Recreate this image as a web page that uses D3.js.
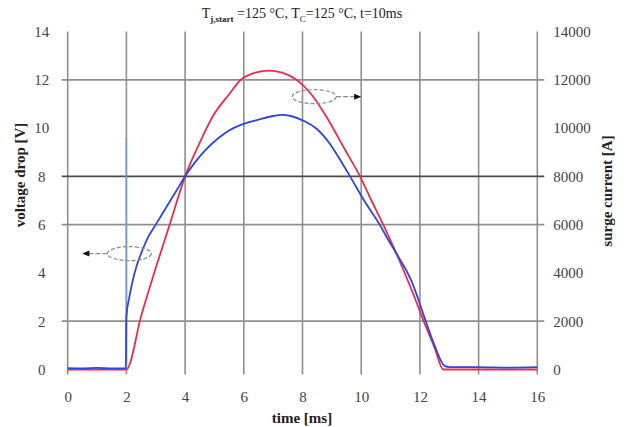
<!DOCTYPE html>
<html>
<head>
<meta charset="utf-8">
<script src="https://cdn.jsdelivr.net/npm/d3@7"></script>
<style>
  body { margin: 0; background: #fff; }
  text { font-family: "Liberation Serif", "Times New Roman", serif; }
</style>
</head>
<body>
<div id="chart-area"></div>
<script>
// ticks
const timeTicks = [0, 2, 4, 6, 8, 10, 12, 14, 16];
const voltTicks = [0, 2, 4, 6, 8, 10, 12, 14];
const currentTicks = [0, 2000, 4000, 6000, 8000, 10000, 12000, 14000];
const voltGrid = [2, 6, 8, 12];

// voltage drop (blue), V
const voltTime = [0, 0.5, 1, 1.5, 1.98, 2, 2.1, 2.2, 2.35, 2.5, 2.75, 3.0, 3.25, 3.5, 3.75, 4.0, 4.35, 4.7, 5.15, 5.5, 5.94, 6.5, 7.0, 7.3, 7.6, 8.09, 8.5, 8.9, 9.25, 9.62, 10.1, 10.63, 10.86, 11.25, 11.7, 12.2, 12.5, 12.84, 13.0, 14, 15, 16];
const voltage  = [0.06, 0.05, 0.07, 0.05, 0.06, 2.2, 3.0, 3.6, 4.3, 4.8, 5.5, 6.0, 6.5, 7.0, 7.5, 8.0, 8.6, 9.1, 9.6, 9.9, 10.15, 10.35, 10.5, 10.55, 10.5, 10.27, 9.95, 9.4, 8.75, 8.0, 7.0, 6.0, 5.5, 4.7, 3.7, 2.0, 1.0, 0.15, 0.1, 0.1, 0.08, 0.1];
// turn-on spike at t = 2 ms
const spikeTime = [2, 2];
const spikeVolt = [0, 9.6];

// surge current (red), A
const currentTime = [0, 2, 2.5, 3, 3.5, 4, 4.5, 5, 5.5, 5.9, 6.4, 6.85, 7.3, 7.8, 8.3, 8.8, 9.45, 9.96, 10.35, 10.75, 11.25, 11.75, 12.13, 12.5, 12.8, 16];
const current     = [0, 0, 2200, 4200, 6100, 8000, 9400, 10600, 11400, 12000, 12300, 12380, 12300, 12000, 11400, 10500, 9100, 8000, 7000, 6000, 4660, 3200, 2000, 900, 0, 0];

const width = 634, height = 427;
const font = '"Liberation Serif", "Times New Roman", serif';
const svg = d3.select('#chart-area')
    .append('svg')
    .attr('width', width)
    .attr('height', height);

const x = d3.scaleLinear().domain([0, 16]).range([67.7, 537.3]);
const y = d3.scaleLinear().domain([0, 14]).range([369.5, 31.5]);
const yR = d3.scaleLinear().domain([0, 14000]).range([369.5, 31.5]);

// vertical grid
svg.append('g')
    .selectAll('line')
    .data(timeTicks)
    .enter()
    .append('line')
    .attr('x1', d => x(d)).attr('x2', d => x(d))
    .attr('y1', y(14)).attr('y2', y(0) + 5)
    .attr('stroke', '#8f8f8f')
    .attr('stroke-width', 1.6);

// horizontal grid (only some levels)
svg.append('g')
    .selectAll('line')
    .data(voltGrid)
    .enter()
    .append('line')
    .attr('x1', x(0) - 6).attr('x2', x(16) + 7)
    .attr('y1', d => y(d)).attr('y2', d => y(d))
    .attr('stroke', d => d === 8 ? '#4a4a4a' : '#8f8f8f')
    .attr('stroke-width', 1.8);

// left axis
const leftAxis = svg.append('g')
    .attr('transform', `translate(${x(0)},0)`)
    .call(d3.axisLeft(y).tickValues(voltTicks).tickSize(0));
leftAxis.select('.domain').remove();
leftAxis.selectAll('text')
    .attr('x', -26)
    .attr('text-anchor', 'middle')
    .attr('fill', '#444')
    .style('font-family', font)
    .style('font-size', '15px');

// right axis
const rightAxis = svg.append('g')
    .attr('transform', `translate(${x(16)},0)`)
    .call(d3.axisRight(yR).tickValues(currentTicks).tickSize(0).tickFormat(d3.format('d')));
rightAxis.select('.domain').remove();
rightAxis.selectAll('text')
    .attr('x', 16)
    .attr('text-anchor', 'start')
    .attr('fill', '#444')
    .style('font-family', font)
    .style('font-size', '15px');

// bottom axis
const bottomAxis = svg.append('g')
    .attr('transform', `translate(0,${y(0)})`)
    .call(d3.axisBottom(x).tickValues(timeTicks).tickSize(0));
bottomAxis.select('.domain').remove();
bottomAxis.selectAll('text')
    .attr('y', 22)
    .attr('fill', '#444')
    .style('font-family', font)
    .style('font-size', '15px');

// curves
const voltLine = d3.line()
    .x((d, i) => x(voltTime[i]))
    .y(d => y(d))
    .curve(d3.curveMonotoneX);
const currentLine = d3.line()
    .x((d, i) => x(currentTime[i]))
    .y(d => yR(d))
    .curve(d3.curveMonotoneX);

svg.append('path')
    .datum(spikeVolt)
    .attr('d', d3.line().x((d, i) => x(spikeTime[i])).y(d => y(d)))
    .attr('fill', 'none')
    .attr('stroke', '#6f95ff')
    .attr('stroke-width', 1.5);

svg.append('path')
    .datum(current)
    .attr('d', currentLine)
    .attr('fill', 'none')
    .attr('stroke', '#ee2a4a')
    .attr('stroke-width', 1.8);

svg.append('path')
    .datum(voltage)
    .attr('d', voltLine)
    .attr('fill', 'none')
    .attr('stroke', '#2b45e6')
    .attr('stroke-width', 1.8);

// series markers (ellipse + arrow)
function marker(cx, cy, tipX, dir) {
    const g = svg.append('g');
    g.append('ellipse')
        .attr('cx', cx).attr('cy', cy)
        .attr('rx', 22).attr('ry', 7)
        .attr('fill', 'none')
        .attr('stroke', '#8a8a8a')
        .attr('stroke-dasharray', '4,2')
        .attr('stroke-width', 1.2);
    const start = cx + dir * 22;
    g.append('line')
        .attr('x1', start).attr('x2', tipX - dir * 5)
        .attr('y1', cy).attr('y2', cy)
        .attr('stroke', '#8a8a8a')
        .attr('stroke-dasharray', '5,2')
        .attr('stroke-width', 1.2);
    g.append('path')
        .attr('d', `M${tipX},${cy} L${tipX - dir * 7},${cy - 3} L${tipX - dir * 7},${cy + 3} Z`)
        .attr('fill', '#111');
}
marker(x(2.1), y(4.8), x(0.5), -1);
marker(x(8.4), y(11.3), x(10), 1);

// title
const title = svg.append('text')
    .attr('x', 302)
    .attr('y', 18)
    .attr('text-anchor', 'middle')
    .attr('fill', '#222')
    .style('font-size', '14px');
title.append('tspan').text('T');
title.append('tspan').attr('dy', 4).style('font-size', '9px').style('font-weight', 'bold').text('j,start');
title.append('tspan').attr('dy', -4).text(' =125 °C, T');
title.append('tspan').attr('dy', 4).style('font-size', '9px').text('C');
title.append('tspan').attr('dy', -4).text('=125 °C, t=10ms');

// axis labels
svg.append('text')
    .attr('x', 302)
    .attr('y', 423)
    .attr('text-anchor', 'middle')
    .style('font-size', '15px')
    .style('font-weight', 'bold')
    .attr('fill', '#222')
    .text('time [ms]');

svg.append('text')
    .attr('transform', 'rotate(-90)')
    .attr('x', -175)
    .attr('y', 25)
    .attr('text-anchor', 'middle')
    .style('font-size', '15px')
    .style('font-weight', 'bold')
    .attr('fill', '#222')
    .text('voltage drop [V]');

svg.append('text')
    .attr('transform', 'rotate(-90)')
    .attr('x', -191)
    .attr('y', 612)
    .attr('text-anchor', 'middle')
    .style('font-size', '15px')
    .style('font-weight', 'bold')
    .attr('fill', '#222')
    .text('surge current [A]');
</script>
</body>
</html>
